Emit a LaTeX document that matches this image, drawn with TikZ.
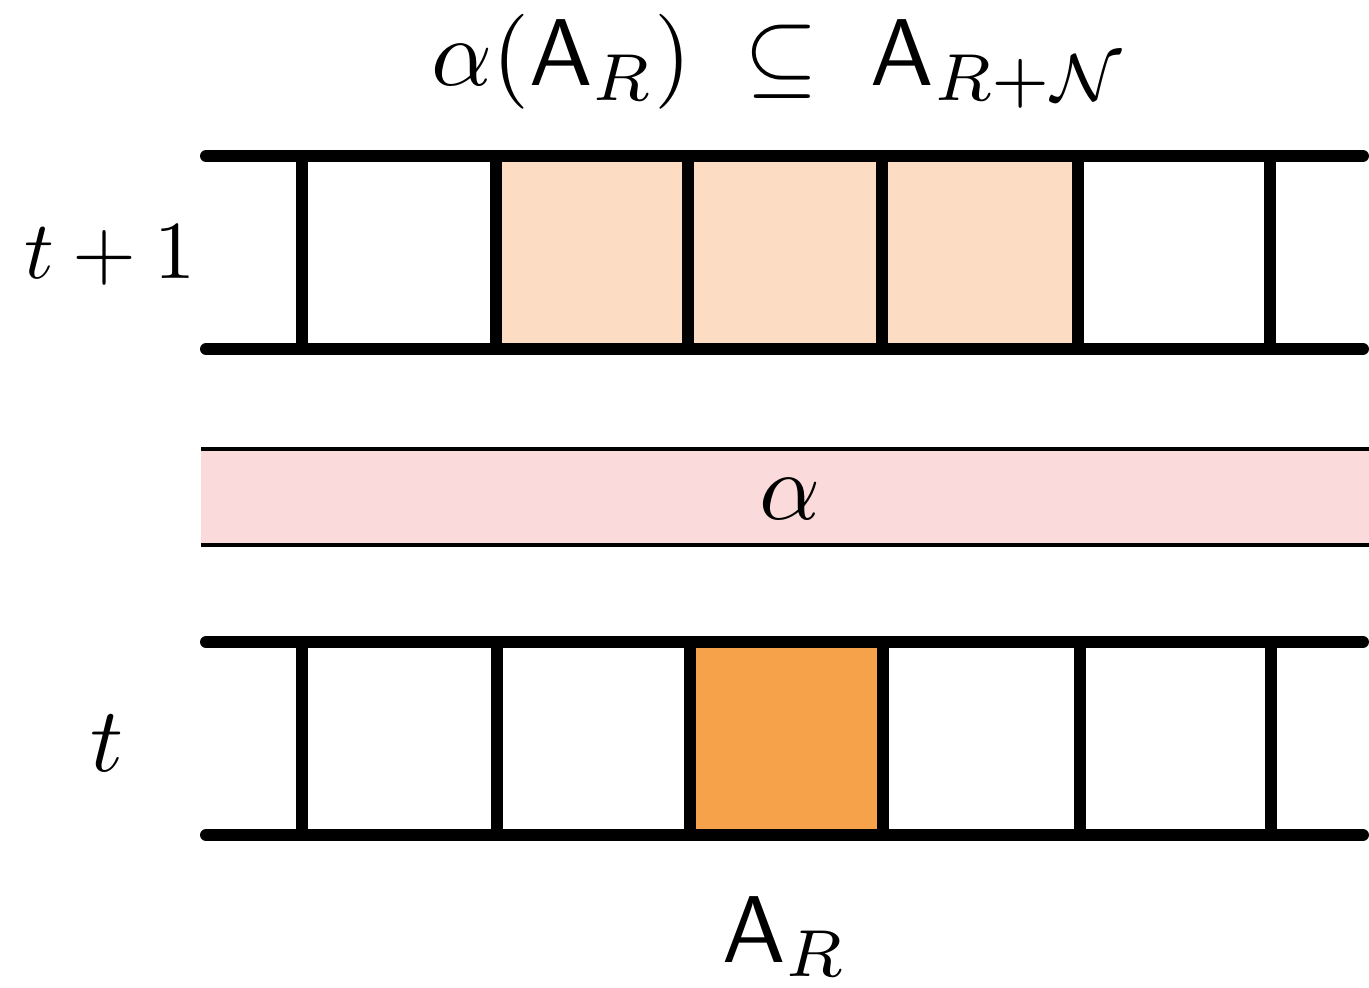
\documentclass[tikz,border=0pt]{standalone}
\usepackage{amsmath,amssymb}
\definecolor{peach}{HTML}{FCDCC2}
\definecolor{cellorange}{HTML}{F5A24A}
\definecolor{bandpink}{HTML}{FADADA}
\newcommand{\bigmath}[2]{\scalebox{#1}{$#2$}}
\tikzset{
  rail/.style={line width=3.4pt, line cap=round},
  post/.style={line width=3.4pt},
  bandline/.style={line width=1.4pt},
  lbl/.style={anchor=base, inner sep=0pt},
}
\begin{document}
\begin{tikzpicture}[x=0.01cm, y=-0.01cm]
  \useasboundingbox (0,0) rectangle (1369,988);

  % row t+1: shaded image of the region
  \fill[peach] (496,156) rectangle (1078,349);
  \foreach \x in {302,496,688,882,1078,1270}
    \draw[post] (\x,156) -- (\x,349);
  \draw[rail] (206,156) -- (1363,156);
  \draw[rail] (206,349) -- (1363,349);

  % the automaton layer
  \fill[bandpink] (201,449) rectangle (1369,545);
  \draw[bandline] (201,449) -- (1369,449);
  \draw[bandline] (201,545) -- (1369,545);
  \node[lbl] (alpha) at (790,519) {\bigmath{2.7}{\alpha}};

  % row t: the region R
  \fill[cellorange] (690,642) rectangle (883,835);
  \foreach \x in {302,497,690,883,1080,1271}
    \draw[post] (\x,642) -- (\x,835);
  \draw[rail] (206,642) -- (1363,642);
  \draw[rail] (206,835) -- (1363,835);

  % labels
  \node[lbl] (top) at (779,86) {\bigmath{2.7}{\alpha(\mathsf{A}_R)\;\subseteq\;\mathsf{A}_{R+\mathcal{N}}}};
  \node[lbl] (tp1) at (110,278) {\bigmath{2.34}{t+1}};
  \node[lbl] (tt) at (107,771) {\bigmath{2.6}{t}};
  \node[lbl] (ar) at (785,962) {\bigmath{2.7}{\mathsf{A}_R}};
\end{tikzpicture}
\end{document}
